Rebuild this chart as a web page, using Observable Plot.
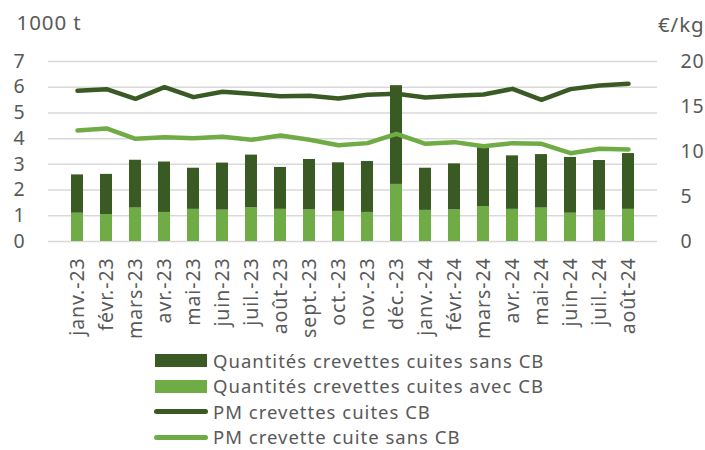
<!DOCTYPE html>
<html><head><meta charset="utf-8">
<script src="https://cdn.jsdelivr.net/npm/d3@7"></script>
<script src="https://cdn.jsdelivr.net/npm/@observablehq/plot@0.6"></script>
<style>
body{margin:0;background:#fff;font-family:"Noto Sans",sans-serif;}
#wrap{position:relative;width:705px;height:450px;overflow:hidden;}
#legend{position:absolute;left:154px;top:348px;font-size:18.5px;letter-spacing:1px;color:#595959;line-height:1;}
.row{display:flex;align-items:center;height:25.5px;}
.sw{width:54px;display:flex;align-items:center;justify-content:center;margin-right:5px;}
svg text{letter-spacing:0.9px;}
</style></head>
<body><div id="wrap"><div id="chart"></div><div id="legend"></div></div>
<script>
const months = ["janv.-23","févr.-23","mars-23","avr.-23","mai-23","juin-23","juil.-23","août-23","sept.-23","oct.-23","nov.-23","déc.-23","janv.-24","févr.-24","mars-24","avr.-24","mai-24","juin-24","juil.-24","août-24"];
const qtySansCB = [1.49,1.56,1.86,1.96,1.60,1.83,2.05,1.63,1.96,1.89,1.98,3.84,1.64,1.79,2.31,2.08,2.08,2.17,1.94,2.17];
const qtyAvecCB = [1.10,1.05,1.30,1.13,1.25,1.22,1.31,1.25,1.23,1.17,1.13,2.22,1.21,1.23,1.36,1.25,1.30,1.10,1.21,1.25];
const pmCuitesCB = [16.74,16.93,15.85,17.15,16.04,16.63,16.41,16.15,16.19,15.89,16.30,16.41,16.00,16.19,16.33,16.96,15.74,16.93,17.33,17.52];
const pmCuiteSansCB = [12.33,12.56,11.41,11.59,11.48,11.63,11.30,11.78,11.30,10.70,10.93,11.96,10.85,11.04,10.59,10.93,10.85,9.81,10.30,10.22];
const leftTicks = [0,1,2,3,4,5,6,7];
const rightTicks = [0,5,10,15,20];
const names = ["Quantités crevettes cuites sans CB","Quantités crevettes cuites avec CB","PM crevettes cuites CB","PM crevette cuite sans CB"];

const dark = "#3a5a23", light = "#6fac46", grey = "#595959";
const k = 7/20; // right axis to left axis
const bars = [];
months.forEach((m,i)=>{
  bars.push({m, s:names[1], v:qtyAvecCB[i], o:0});
  bars.push({m, s:names[0], v:qtySansCB[i], o:1});
});
const l1 = months.map((m,i)=>({m, v:pmCuitesCB[i]*k}));
const l2 = months.map((m,i)=>({m, v:pmCuiteSansCB[i]*k}));

const chart = Plot.plot({
  width:705, height:345,
  marginLeft:48, marginRight:48, marginTop:61, marginBottom:104,
  style:{fontFamily:"'Noto Sans', sans-serif", fontSize:"18px", color:grey, background:"#fff"},
  x:{domain:months, padding:0.6, label:null},
  y:{domain:[0,7], label:null},
  color:{domain:[names[0],names[1]], range:[dark,light]},
  marks:[
    Plot.gridY(leftTicks,{stroke:"#d9d9d9", strokeOpacity:1, strokeWidth:1.5}),
    Plot.barY(bars,{x:"m", y:"v", fill:"s", order:"o"}),
    Plot.lineY(l2,{x:"m", y:"v", stroke:light, strokeWidth:4.5, strokeLinecap:"round", strokeLinejoin:"round"}),
    Plot.lineY(l1,{x:"m", y:"v", stroke:dark, strokeWidth:4.5, strokeLinecap:"round", strokeLinejoin:"round"}),
    Plot.axisY(leftTicks,{anchor:"left", tickSize:0, tickPadding:23, fontSize:19.5, label:null}),
    Plot.axisY(rightTicks.map(t=>t*k),{anchor:"right", tickSize:0, tickPadding:23, fontSize:19.5, tickFormat:d=>String(Math.round(d/k)), label:null}),
    Plot.axisX({tickRotate:-90, tickSize:0, tickPadding:16, fontSize:19.5, label:null}),
    Plot.text(["1000 t"],{frameAnchor:"top-left", dx:-32, dy:-46, fontSize:20.5, textAnchor:"start", fill:grey}),
    Plot.text(["€/kg"],{frameAnchor:"top-right", dx:47, dy:-44, fontSize:20.5, textAnchor:"end", fill:grey})
  ]
});
document.getElementById("chart").appendChild(chart);

const lg = document.getElementById("legend");
const sw = [
  `<div style="width:52px;height:13px;background:${dark}"></div>`,
  `<div style="width:52px;height:13px;background:${light}"></div>`,
  `<div style="width:54px;height:5px;border-radius:3px;background:${dark}"></div>`,
  `<div style="width:54px;height:5px;border-radius:3px;background:${light}"></div>`
];
names.forEach((n,i)=>{
  const r = document.createElement("div"); r.className="row";
  r.innerHTML = `<div class="sw">${sw[i]}</div><span>${n}</span>`;
  lg.appendChild(r);
});
</script></body></html>
